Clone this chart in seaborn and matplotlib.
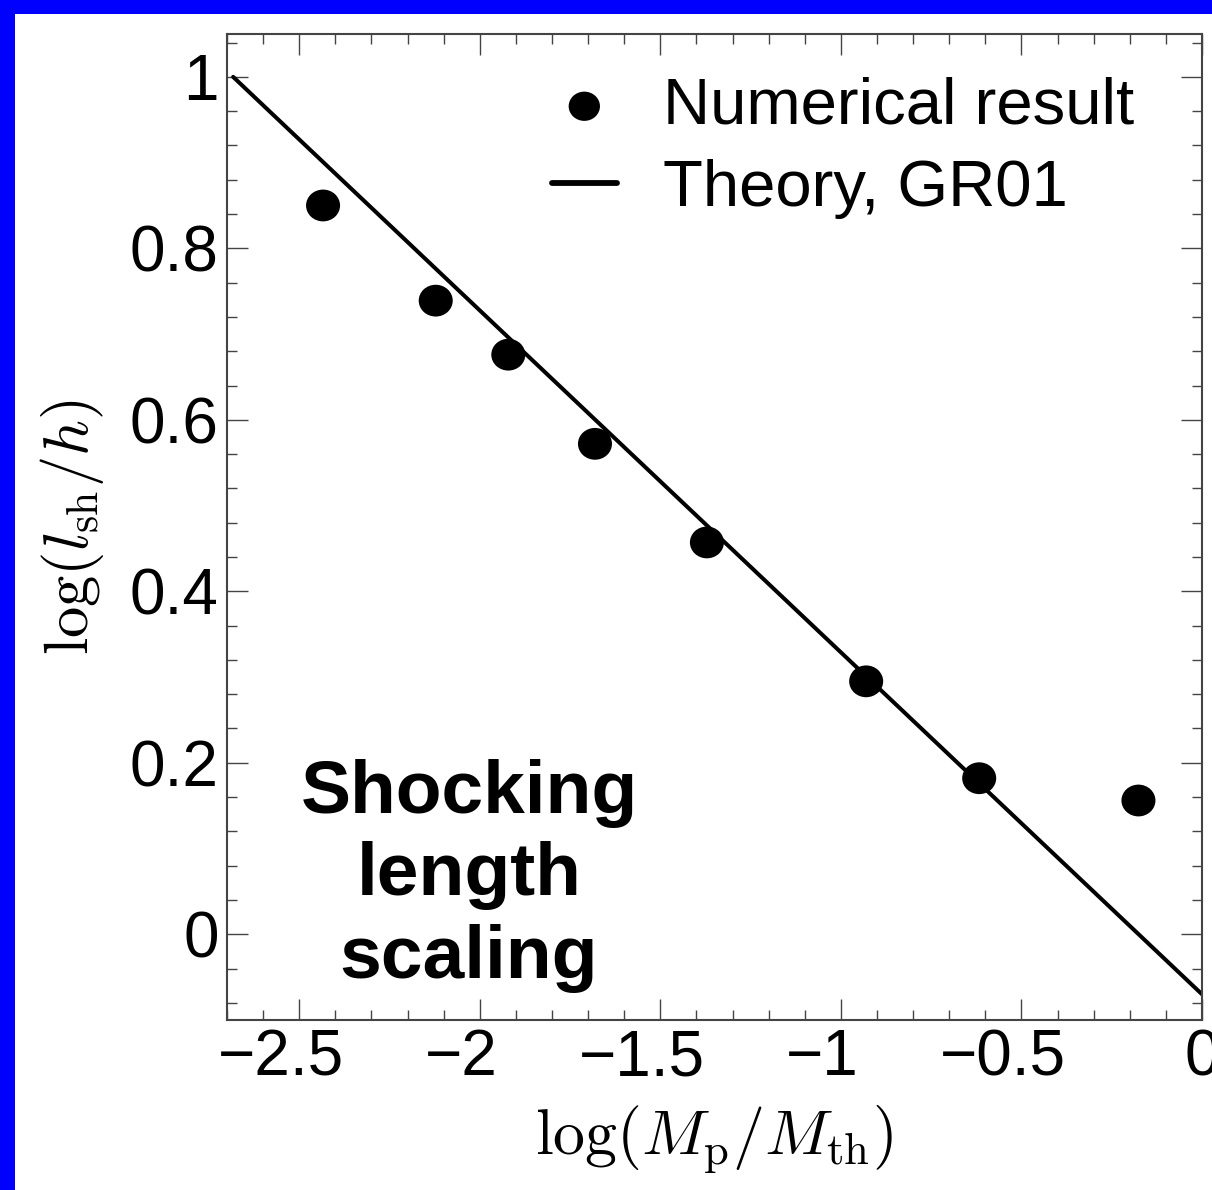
import numpy as np
import pandas as pd
import matplotlib
matplotlib.use('Agg')
import matplotlib.pyplot as plt
import seaborn as sns
from matplotlib.patches import Rectangle
from matplotlib.path import Path
from matplotlib.transforms import Affine2D, ScaledTranslation
from matplotlib.ticker import MultipleLocator, FuncFormatter

# numerical shocking lengths
log_mass = [-2.434, -2.122, -1.921, -1.681, -1.371, -0.930, -0.617, -0.176]
log_lsh = [0.850, 0.739, 0.676, 0.572, 0.457, 0.295, 0.182, 0.156]

# GR01 theory line end points
theory_x = [-2.683, 0.0]
theory_y = [1.0, -0.07]

num_df = pd.DataFrame({'x': log_mass, 'y': log_lsh})
theory_df = pd.DataFrame({'x': theory_x, 'y': theory_y})

sns.set_style('ticks')
plt.rcParams['font.family'] = ['Liberation Sans', 'DejaVu Sans']
plt.rcParams['mathtext.fontset'] = 'cm'
plt.rcParams['axes.unicode_minus'] = True
plt.rcParams['text.color'] = 'black'
plt.rcParams['axes.labelcolor'] = 'black'
plt.rcParams['xtick.labelcolor'] = 'black'
plt.rcParams['ytick.labelcolor'] = 'black'

W, H = 1212, 1190
fig = plt.figure(figsize=(W / 100, H / 100), dpi=100)
fig.patch.set_facecolor('#0000ff')
fig.patches.append(Rectangle((15 / W, 0), 1 - 15 / W, 1 - 14 / H, transform=fig.transFigure,
                             facecolor='white', edgecolor='none', zorder=-10))

ax = fig.add_axes([227 / W, (H - 1020) / H, 975 / W, 986 / H])
ax.set_zorder(1)
ax.set_facecolor('white')

# dots in the original are a touch wider than tall
dot = Path.unit_circle().transformed(Affine2D().scale(1.07, 1.0))

sns.scatterplot(data=num_df, x='x', y='y', ax=ax, s=600, color='black', edgecolor='none',
                marker=dot, label='Numerical result', zorder=3)
sns.lineplot(data=theory_df, x='x', y='y', ax=ax, color='black', linewidth=2.9,
             label='Theory, GR01', zorder=2)

ax.set_xlim(-2.7, 0)
ax.set_ylim(-0.1, 1.05)

ax.xaxis.set_major_locator(MultipleLocator(0.5))
ax.xaxis.set_minor_locator(MultipleLocator(0.1))
ax.yaxis.set_major_locator(MultipleLocator(0.2))
ax.yaxis.set_minor_locator(MultipleLocator(0.04))
fmt = FuncFormatter(lambda v, p: ('%g' % round(v, 3)).replace('-', '\u2212'))
ax.xaxis.set_major_formatter(fmt)
ax.yaxis.set_major_formatter(fmt)

ax.tick_params(which='both', direction='in', top=True, right=True, color='#444444', width=1.0)
ax.tick_params(which='major', length=15, labelsize=46, pad=6)
ax.tick_params(which='minor', length=7.5)
for sp in ax.spines.values():
    sp.set_color('#444444')
    sp.set_linewidth(1.5)

ax.set_xlabel(r'$\log(M_{\rm p}/M_{\rm th})$', fontsize=46, labelpad=11)
ax.set_ylabel(r'$\log(l_{\rm sh}/h)$', fontsize=45, labelpad=17)

ax.text(-2.03, 0.068, 'Shocking\nlength\nscaling', fontsize=54, fontweight='bold',
        ha='center', va='center', multialignment='center', linespacing=1.25)

leg = ax.legend(loc='upper left', bbox_to_anchor=(0.333, 0.957), frameon=False, fontsize=47,
                handlelength=1.0, handletextpad=0.7, labelspacing=0.34,
                borderaxespad=0, borderpad=0, markerscale=0.92)
for ln in leg.get_lines():
    ln.set_linewidth(4.2)

# the original centres the digits on the tick, letting the minus sign hang to the left
fig.canvas.draw()
shift = ScaledTranslation(-0.185, 0, fig.dpi_scale_trans)
for tick in ax.xaxis.get_major_ticks():
    lab = tick.label1
    if lab.get_text().startswith('\u2212'):
        lab.set_transform(lab.get_transform() + shift)

fig.savefig('out.png', dpi=100, facecolor=fig.get_facecolor())
